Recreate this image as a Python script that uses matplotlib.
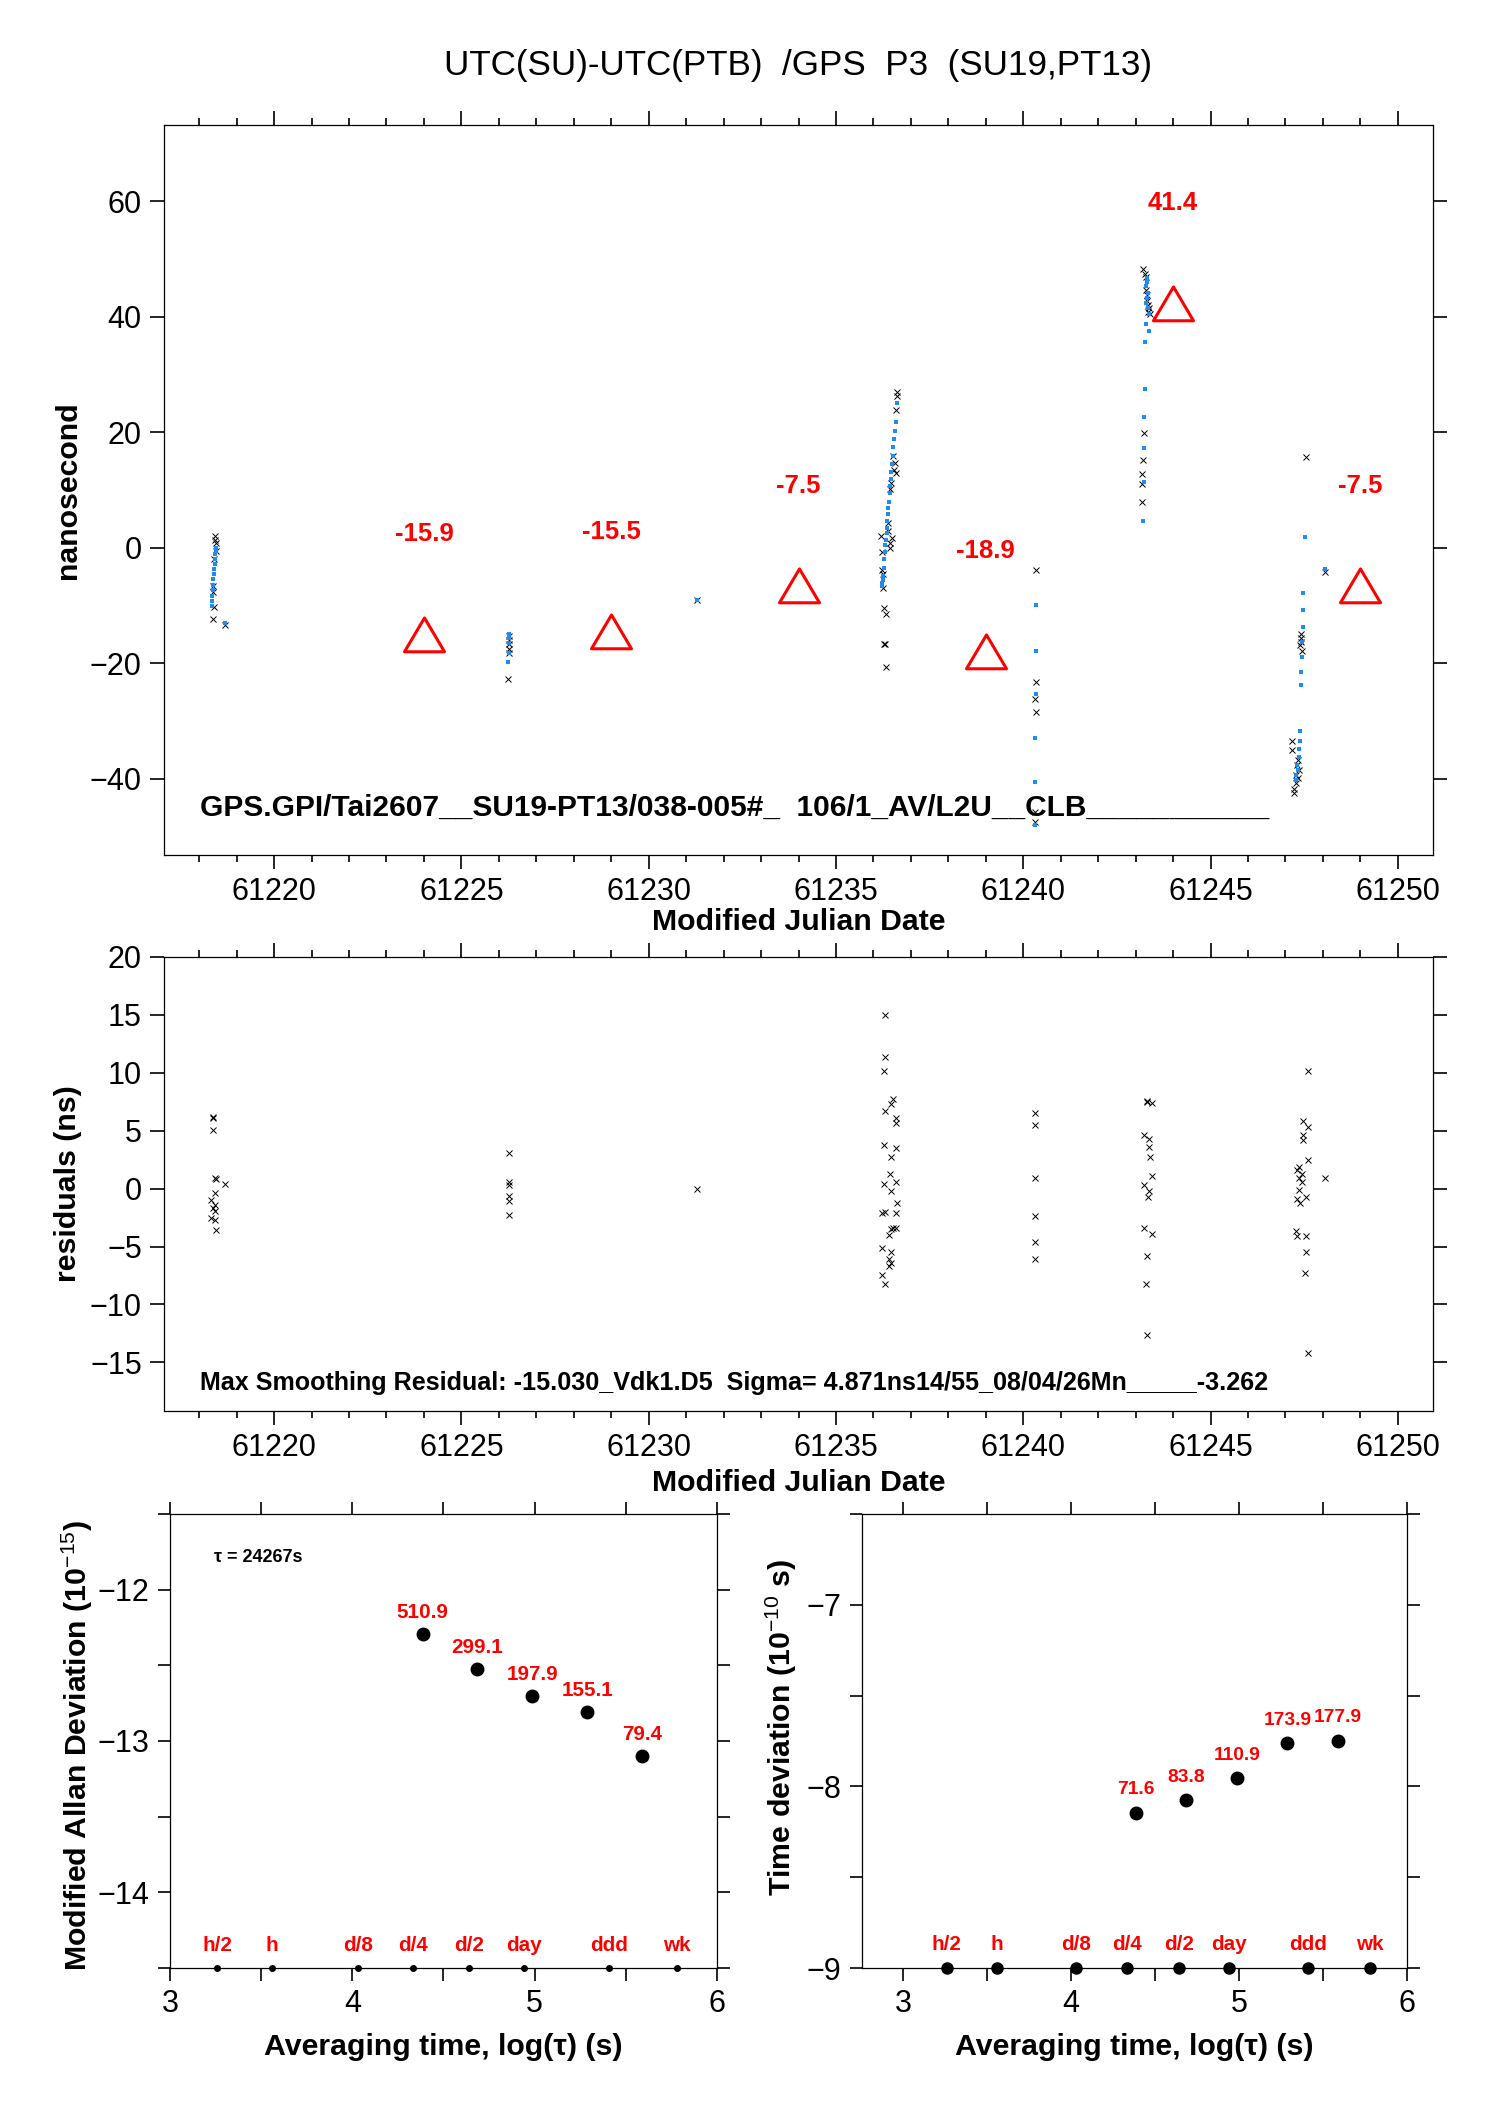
import matplotlib
matplotlib.use("Agg")
import matplotlib.pyplot as plt
from matplotlib.ticker import MultipleLocator, FormatStrFormatter
from matplotlib.path import Path

plt.rcParams['font.family'] = ['Liberation Sans', 'DejaVu Sans']
plt.rcParams['mathtext.fontset'] = 'custom'
plt.rcParams['mathtext.rm'] = 'Liberation Sans'
plt.rcParams['mathtext.bf'] = 'Liberation Sans:bold'

# ---- top panel: raw P3 measurements (black x) ----
raw_mjd = [61218.42, 61218.42, 61218.44, 61218.46, 61218.40, 61218.37, 61218.38, 61218.39, 61218.38, 61218.68,
           61226.26, 61226.27, 61226.26, 61226.27, 61226.26, 61226.25,
           61231.28,
           61236.63, 61236.64, 61236.61, 61236.52, 61236.58, 61236.55, 61236.60, 61236.47, 61236.45, 61236.38,
           61236.40, 61236.20, 61236.49, 61236.43, 61236.45, 61236.23, 61236.23, 61236.25, 61236.25, 61236.27,
           61236.33, 61236.28, 61236.31, 61236.33,
           61240.33, 61240.33, 61240.32, 61240.33, 61240.31, 61240.32,
           61243.20, 61243.24, 61243.27, 61243.27, 61243.30, 61243.31, 61243.33, 61243.35, 61243.34, 61243.38,
           61243.22, 61243.20, 61243.18, 61243.18, 61243.16,
           61247.55, 61247.42, 61247.41, 61247.42, 61247.40, 61247.45, 61247.18, 61247.18, 61247.33, 61247.31,
           61247.36, 61247.29, 61247.33, 61247.27, 61247.24, 61247.22,
           61248.05]
raw_ns = [2.0, 1.3, 0.8, -0.6, -1.9, -6.6, -7.6, -10.3, -12.3, -13.4,
          -15.2, -15.9, -16.6, -17.5, -18.3, -22.7,
          -9.1,
          26.9, 26.3, 23.9, 15.9, 14.7, 13.5, 12.9, 11.2, 10.2, 4.3,
          2.9, 2.0, 1.7, 0.8, 0.0, -0.8, -3.9, -4.6, -6.9, -10.4,
          -11.4, -16.6, -16.7, -20.6,
          -3.9, -23.3, -26.2, -28.5, -45.8, -47.5,
          48.3, 47.4, 46.8, 44.7, 43.7, 42.8, 42.1, 41.5, 40.9, 40.5,
          19.9, 15.2, 12.7, 11.0, 7.9,
          15.8, -14.9, -15.7, -16.3, -16.8, -17.8, -33.5, -35.1, -36.8, -37.6,
          -38.5, -39.4, -39.9, -40.8, -41.7, -42.5,
          -4.2]

# ---- top panel: smoothed values (blue dots) ----
smooth_mjd = [61218.45, 61218.44, 61218.43, 61218.42, 61218.41, 61218.40, 61218.39, 61218.38, 61218.37, 61218.36,
              61218.35, 61218.34, 61218.33, 61218.68,
              61226.27, 61226.27, 61226.27, 61226.26, 61226.25,
              61231.28,
              61236.63, 61236.59, 61236.57, 61236.55, 61236.53, 61236.51, 61236.50, 61236.48, 61236.46, 61236.45,
              61236.43, 61236.42, 61236.40, 61236.39, 61236.37, 61236.36, 61236.35, 61236.33, 61236.32, 61236.30,
              61236.29, 61236.27, 61236.25, 61236.245, 61236.24, 61236.23,
              61240.33, 61240.33, 61240.33, 61240.32, 61240.31, 61240.31,
              61243.30, 61243.31, 61243.29, 61243.33, 61243.30, 61243.29, 61243.33, 61243.35, 61243.27, 61243.37,
              61243.25, 61243.24, 61243.22, 61243.22, 61243.22, 61243.20,
              61247.51, 61247.48, 61247.46, 61247.46, 61247.44, 61247.44, 61247.42, 61247.42, 61247.38, 61247.38,
              61247.35, 61247.35, 61247.31, 61247.33, 61247.27, 61247.29,
              61248.05]
smooth_ns = [-0.1, -0.5, -1.1, -1.9, -2.8, -3.7, -4.5, -5.4, -6.4, -7.4,
             -8.4, -9.3, -10.0, -13.0,
             -14.9, -15.7, -16.5, -18.2, -19.7,
             -9.1,
             25.0, 21.8, 20.3, 18.9, 17.4, 15.9, 14.5, 13.2, 11.9, 10.7,
             9.4, 8.0, 6.9, 5.9, 4.7, 3.5, 2.6, 1.3, 0.4, -0.7,
             -2.0, -3.5, -4.9, -5.5, -6.1, -6.6,
             -9.9, -17.8, -25.4, -33.0, -40.6, -48.0,
             46.7, 46.0, 45.3, 44.1, 43.2, 42.4, 41.5, 40.5, 38.8, 37.5,
             35.6, 27.5, 22.6, 17.2, 11.3, 4.7,
             1.8, -7.8, -10.8, -13.8, -16.3, -19.0, -21.5, -23.8, -31.8, -33.5,
             -34.9, -36.3, -37.6, -38.5, -39.4, -40.2,
             -3.7]

# ---- top panel: daily means (red triangles) ----
mean_mjd = [61224, 61229, 61234, 61239, 61244, 61249]
mean_ns = [-15.9, -15.5, -7.5, -18.9, 41.4, -7.5]
mean_txt = ['-15.9', '-15.5', '-7.5', '-18.9', '41.4', '-7.5']

# ---- middle panel: residuals ----
res_mjd = [61218.37, 61218.38, 61218.37, 61218.42, 61218.44, 61218.70, 61218.41, 61218.32, 61218.41, 61218.37,
           61218.41, 61218.32, 61218.41, 61218.44,
           61226.26, 61226.26, 61226.27, 61226.26, 61226.26, 61226.26,
           61231.29,
           61236.32, 61236.32, 61236.28, 61236.52, 61236.48, 61236.32, 61236.59, 61236.59, 61236.28, 61236.59,
           61236.48, 61236.43, 61236.59, 61236.28, 61236.48, 61236.63, 61236.23, 61236.32, 61236.59, 61236.52,
           61236.59, 61236.48, 61236.41, 61236.23, 61236.48, 61236.41, 61236.48, 61236.41, 61236.23, 61236.32,
           61243.30, 61243.31, 61243.43, 61243.23, 61243.36, 61243.36, 61243.38, 61243.43, 61243.23, 61243.36,
           61243.32, 61243.23, 61243.43, 61243.30, 61243.28, 61243.30,
           61240.32, 61240.32, 61240.32, 61240.32, 61240.32, 61240.32,
           61247.61, 61247.48, 61247.59, 61247.46, 61247.48, 61247.59, 61247.36, 61247.32, 61247.43, 61247.36,
           61247.43, 61247.36, 61247.54, 61247.32, 61247.39, 61247.27, 61247.32, 61247.54, 61247.54, 61247.52,
           61247.61,
           61248.06]
res_ns = [6.2, 6.1, 5.1, 0.9, 0.8, 0.4, -0.4, -1.0, -1.4, -1.7,
          -1.9, -2.5, -2.7, -3.6,
          3.1, 0.6, 0.3, -0.6, -1.1, -2.3,
          0.0,
          15.0, 11.4, 10.2, 7.7, 7.3, 6.7, 6.1, 5.7, 3.8, 3.5,
          2.7, 1.3, 0.6, 0.4, -0.2, -1.2, -2.1, -2.0, -2.1, -3.4,
          -3.4, -3.5, -4.0, -5.1, -5.5, -6.1, -6.4, -6.7, -7.5, -8.2,
          7.6, 7.5, 7.4, 4.6, 4.3, 3.6, 2.7, 1.1, 0.3, -0.2,
          -0.7, -3.4, -3.9, -5.8, -8.2, -12.6,
          6.5, 5.5, 0.9, -2.4, -4.6, -6.1,
          10.2, 5.8, 5.3, 4.6, 4.2, 2.5, 1.9, 1.6, 1.3, 0.9,
          0.6, -0.1, -0.7, -0.9, -1.2, -3.7, -4.1, -4.1, -5.5, -7.3,
          -14.2,
          0.9]

# ---- bottom panels ----
log_tau = [4.385, 4.686, 4.987, 5.288, 5.589]
mdev = [-12.295, -12.525, -12.703, -12.809, -13.098]
mdev_txt = ['510.9', '299.1', '197.9', '155.1', '79.4']
tdev = [-8.144, -8.075, -7.954, -7.761, -7.748]
tdev_txt = ['71.6', '83.8', '110.9', '173.9', '177.9']
mark_x = [3.26, 3.56, 4.03, 4.33, 4.64, 4.94, 5.41, 5.78]
mark_txt = ['h/2', 'h', 'd/8', 'd/4', 'd/2', 'day', 'ddd', 'wk']

W, H = 1488, 2105

# open triangle whose centroid sits on the value
tri = Path([(0, 22), (-19.5, -11), (19.5, -11), (0, 22)],
           [Path.MOVETO, Path.LINETO, Path.LINETO, Path.CLOSEPOLY])


def box(l, t, r, b):
    return [l / W, 1 - b / H, (r - l) / W, (b - t) / H]


def style(ax):
    ax.tick_params(which='both', direction='out', top=True, right=True, width=1.2, labelsize=22)
    ax.tick_params(which='major', length=10, pad=6)
    ax.tick_params(which='minor', length=5)
    for s in ax.spines.values():
        s.set_linewidth(0.9)


fig = plt.figure(figsize=(W / 100, H / 100), dpi=100)
fig.text(798 / W, 1 - 65 / H, 'UTC(SU)-UTC(PTB)  /GPS  P3  (SU19,PT13)', ha='center', va='center', fontsize=25.2)

blue = '#1e8cf0'

# top
ax1 = fig.add_axes(box(164, 125, 1433, 855))
ax1.plot(raw_mjd, raw_ns, 'x', color='black', markersize=4, mew=0.7)
ax1.plot(smooth_mjd, smooth_ns, 's', color=blue, markersize=2.2, mew=0)
ax1.plot(mean_mjd, mean_ns, linestyle='none', marker=tri, markersize=32.5, mfc='none', mec='red', mew=2.2)
for x, y, t in zip(mean_mjd, mean_ns, mean_txt):
    ax1.annotate(t, (x, y), xytext=(0, 76), textcoords='offset points', ha='center', va='center',
                 color='red', fontsize=18.5, fontweight='bold')
ax1.set_xlim(61217.06, 61250.94)
ax1.set_ylim(-53.2, 73.2)
ax1.xaxis.set_major_locator(MultipleLocator(5))
ax1.xaxis.set_minor_locator(MultipleLocator(1))
ax1.yaxis.set_major_locator(MultipleLocator(20))
ax1.xaxis.set_major_formatter(FormatStrFormatter('%d'))
style(ax1)
ax1.set_xlabel('Modified Julian Date', fontsize=21.8, fontweight='bold')
ax1.xaxis.set_label_coords(0.5, -0.072)
ax1.set_ylabel('nanosecond', fontsize=21.8, fontweight='bold')
ax1.yaxis.set_label_coords(-0.065, 0.5)
ax1.text(0.028, 0.064, 'GPS.GPI/Tai2607__SU19-PT13/038-005#_  106/1_AV/L2U__CLB___________',
         transform=ax1.transAxes, fontsize=21.5, fontweight='bold', va='center')

# middle
ax2 = fig.add_axes(box(164, 957, 1433, 1411))
ax2.plot(res_mjd, res_ns, 'x', color='black', markersize=4, mew=0.7)
ax2.set_xlim(61217.06, 61250.94)
ax2.set_ylim(-19.2, 20)
ax2.xaxis.set_major_locator(MultipleLocator(5))
ax2.xaxis.set_minor_locator(MultipleLocator(1))
ax2.yaxis.set_major_locator(MultipleLocator(5))
ax2.xaxis.set_major_formatter(FormatStrFormatter('%d'))
style(ax2)
ax2.set_xlabel('Modified Julian Date', fontsize=21.8, fontweight='bold')
ax2.xaxis.set_label_coords(0.5, -0.128)
ax2.set_ylabel('residuals (ns)', fontsize=21.8, fontweight='bold')
ax2.yaxis.set_label_coords(-0.065, 0.5)
ax2.text(0.028, 0.062, 'Max Smoothing Residual: -15.030_Vdk1.D5  Sigma= 4.871ns14/55_08/04/26Mn_____-3.262',
         transform=ax2.transAxes, fontsize=18.1, fontweight='bold', va='center')

# bottom left: modified Allan deviation
ax3 = fig.add_axes(box(170, 1514, 717, 1968))
ax3.plot(log_tau, mdev, 'o', color='black', markersize=9)
for x, y, t in zip(log_tau, mdev, mdev_txt):
    ax3.annotate(t, (x, y), xytext=(0, 15.5), textcoords='offset points', ha='center', va='center',
                 color='red', fontsize=14.9, fontweight='bold')
for x, t in zip(mark_x, mark_txt):
    ax3.plot([x], [-14.5], 'o', color='black', markersize=4, clip_on=False)
    ax3.annotate(t, (x, -14.5), xytext=(0, 16.5), textcoords='offset points', ha='center', va='center',
                 color='red', fontsize=14.9, fontweight='bold')
ax3.set_xlim(3, 6)
ax3.set_ylim(-14.5, -11.5)
ax3.xaxis.set_major_locator(MultipleLocator(1))
ax3.xaxis.set_minor_locator(MultipleLocator(0.5))
ax3.yaxis.set_major_locator(MultipleLocator(1))
ax3.yaxis.set_minor_locator(MultipleLocator(0.5))
style(ax3)
ax3.tick_params(which='both', length=9)
ax3.text(0.08, 0.905, 'τ = 24267s', transform=ax3.transAxes, fontsize=13, fontweight='bold', va='center')
ax3.set_xlabel('Averaging time, log(τ) (s)', fontsize=21.8, fontweight='bold')
ax3.xaxis.set_label_coords(0.5, -0.143)
ax3.set_ylabel('Modified Allan Deviation (10$^{-15}$)', fontsize=21.8, fontweight='bold')
ax3.yaxis.set_label_coords(-0.138, 0.49)

# bottom right: time deviation
ax4 = fig.add_axes(box(862, 1514, 1407, 1968))
ax4.plot(log_tau, tdev, 'o', color='black', markersize=9)
for x, y, t in zip(log_tau, tdev, tdev_txt):
    ax4.annotate(t, (x, y), xytext=(0, 16.5), textcoords='offset points', ha='center', va='center',
                 color='red', fontsize=13.8, fontweight='bold')
for x, t in zip(mark_x, mark_txt):
    ax4.plot([x], [-9], 'o', color='black', markersize=8, clip_on=False)
    ax4.annotate(t, (x, -9), xytext=(0, 17), textcoords='offset points', ha='center', va='center',
                 color='red', fontsize=14.9, fontweight='bold')
ax4.set_xlim(2.755, 6)
ax4.set_ylim(-9, -6.5)
ax4.xaxis.set_major_locator(MultipleLocator(1))
ax4.xaxis.set_minor_locator(MultipleLocator(0.5))
ax4.yaxis.set_major_locator(MultipleLocator(1))
ax4.yaxis.set_minor_locator(MultipleLocator(0.5))
style(ax4)
ax4.tick_params(which='both', length=9)
ax4.set_xlabel('Averaging time, log(τ) (s)', fontsize=21.8, fontweight='bold')
ax4.xaxis.set_label_coords(0.5, -0.143)
ax4.set_ylabel('Time deviation (10$^{-10}$ s)', fontsize=21.8, fontweight='bold')
ax4.yaxis.set_label_coords(-0.115, 0.53)

fig.savefig('out.png', dpi=100)
